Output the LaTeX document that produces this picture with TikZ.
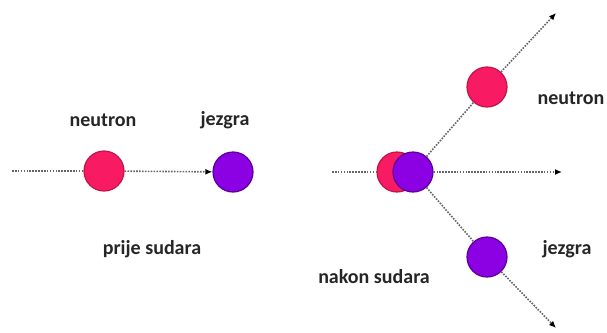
\documentclass[tikz,border=0pt]{standalone}
\usepackage{fontspec}
\setmainfont{Carlito}
\usetikzlibrary{arrows.meta}

\definecolor{neutronpink}{RGB}{248,26,98}
\definecolor{neutronedge}{RGB}{190,20,75}
\definecolor{jezgrapurple}{RGB}{140,0,228}
\definecolor{jezgraedge}{RGB}{90,0,150}

\begin{document}
\begin{tikzpicture}[x=1pt,y=-1pt,
    neutron/.style={circle,fill=neutronpink,draw=neutronedge,line width=1.2pt,minimum size=40pt,inner sep=0pt},
    jezgra/.style={circle,fill=jezgrapurple,draw=jezgraedge,line width=1.2pt,minimum size=40pt,inner sep=0pt},
    path/.style={draw=black!60,line width=1.6pt,dash pattern=on 1.6pt off 1.3pt},
    tip/.style={-{Latex[length=7pt,width=6pt,black]}},
    label/.style={font=\bfseries\fontsize{20}{24}\selectfont,text=black!85}]

    \useasboundingbox (0,0) rectangle (607,332);

    % prije sudara
    \coordinate (s1) at (12,171);
    \node[neutron] (n1) at (104,171) {};
    \node[jezgra] (j1) at (233,172) {};
    \draw[path] (s1) -- (n1);
    \draw[path,tip] (n1) -- (j1);

    \node[label] (ln1) at (103,120) {neutron};
    \node[label] (lj1) at (225,120) {jezgra};
    \node[label] (lp) at (152,249) {prije sudara};

    % nakon sudara
    \coordinate (s2) at (332,172);
    \coordinate (e0) at (562,172);
    \coordinate (e1) at (556,13);
    \coordinate (e2) at (556,328);
    \node[neutron] (n0) at (397,172) {};
    \node[jezgra] (j0) at (413,172) {};
    \node[neutron] (n2) at (487,87) {};
    \node[jezgra] (j2) at (487,257) {};

    \draw[path] (s2) -- (n0);
    \draw[path,tip] (j0) -- (e0);
    \draw[path] (j0) -- (n2);
    \draw[path,tip] (n2) -- (e1);
    \draw[path] (j0) -- (j2);
    \draw[path,tip] (j2) -- (e2);

    \node[label] (ln2) at (571,98) {neutron};
    \node[label] (lj2) at (567,249) {jezgra};
    \node[label] (ln) at (374,277) {nakon sudara};
\end{tikzpicture}
\end{document}
